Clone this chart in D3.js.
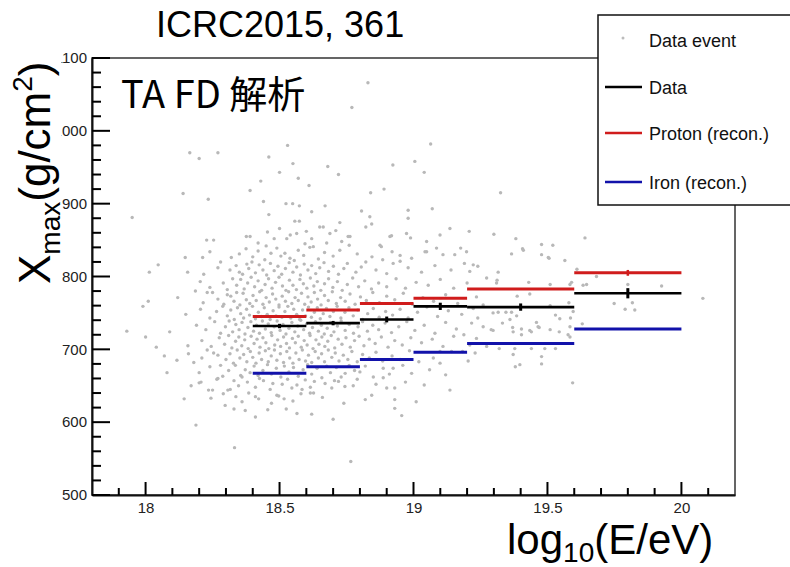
<!DOCTYPE html>
<html>
<head>
<meta charset="utf-8">
<script src="https://cdn.jsdelivr.net/npm/d3@7"></script>
<style>
  body { margin: 0; background: #fff; }
  svg { display: block; font-family: "Liberation Sans", Arial, sans-serif; }
</style>
</head>
<body>
<div class="curr-graff"></div>
<script>
// bins in log10(E/eV)
const binEdges = [18.4, 18.6, 18.8, 19.0, 19.2, 19.6, 20.0];
const binCenters = [18.5, 18.7, 18.9, 19.1, 19.4, 19.8];
const dataXmax = [732, 736, 741, 759, 758, 777];
const dataErr = [3, 3, 4, 5, 5, 7];
const protonXmax = [745, 754, 763, 770, 783, 805];
const protonErr = [1, 1, 1, 1, 1, 4];
const ironXmax = [667, 676, 686, 696, 708, 728];

const xMajorTicks = [18, 18.5, 19, 19.5, 20];
const xTickLabels = ["18", "18.5", "19", "19.5", "20"];
const yMajorTicks = [500, 600, 700, 800, 900, 1000, 1100];
const yTickLabels = ["500", "600", "700", "800", "900", "1000", "1100"];

const legendLabels = ["Data event", "Data", "Proton (recon.)", "Iron (recon.)"];

// individual events (approximate)
const events = [
[17.95,881],[17.99,759],[18.01,766],[18.014,806],[18.047,816],[17.93,725],[18.0,717],[18.04,703],[18.07,691],[18.08,668],
[18.09,724],[18.117,685],[18.12,771],[18.144,632],[18.15,748],[18.158,705],[18.16,694],[18.17,650],[18.18,682],[18.188,596],
[18.186,780],[18.148,826],[18.157,806],[18.14,914],[18.165,970],[18.20,962],[18.27,970],[18.46,964],[18.53,980],[18.55,955],
[18.68,951],[18.43,931],[18.77,1032],[18.83,1066],[19.064,982],[18.923,953],[19.005,958],[19.04,943],[18.57,935],[18.61,925],
[18.39,918],[18.72,940],[18.5,943],[18.84,915],[18.89,920],[19.325,915],[18.234,906],[18.332,565],[18.766,546],
[19.297,726],[19.312,795],[19.316,806],[19.316,751],[19.32,701],[19.332,736],[19.345,751],[19.36,741],[19.366,831],[19.366,751],
[19.37,730],[19.372,724],[19.372,693],[19.378,701],[19.38,676],[19.382,852],[19.385,746],[19.387,773],[19.397,679],[19.403,728],
[19.403,720],[19.407,838],[19.41,836],[19.43,792],[19.434,776],[19.434,726],[19.44,724],[19.44,701],[19.459,737],[19.465,731],
[19.469,730],[19.478,844],[19.478,830],[19.478,690],[19.478,680],[19.49,701],[19.503,826],[19.506,825],[19.51,789],[19.51,760],
[19.51,727],[19.52,843],[19.53,747],[19.53,701],[19.544,724],[19.546,742],[19.565,822],[19.577,720],[19.58,764],[19.584,789],
[19.584,731],[19.584,717],[19.586,743],[19.59,792],[19.594,654],[19.596,752],[19.61,810],[19.63,735],[19.633,788],[19.64,853],
[19.646,789],[19.683,800],[19.749,763],[19.79,755],[19.80,789],[19.817,764],[19.826,754],[19.926,787],[20.08,770],
[19.21,706],[19.23,695],[19.204,684],[19.188,720],[19.235,715],[19.273,704],[19.235,772],[19.26,761],[19.223,756],[19.24,743],
[19.26,731],[19.29,727],[19.297,750],[19.217,736],[19.273,798],[19.31,791],[19.223,816],[19.24,814],[19.21,807],[19.30,858],
[19.208,862],[19.19,818],
[19.099,857],[19.136,866],[19.049,848],[19.049,834],[19.086,839],[19.11,830],[19.154,830],[19.176,839],[19.198,834],[19.043,834],
[19.07,893],[19.074,688],[19.099,681],[19.142,697],[19.183,697],[19.099,697],[19.136,644],
[18.806,890],[18.837,882],[18.844,872],[18.822,868],[18.98,891],[18.98,880],[18.763,855],[18.918,856],[18.974,859],[18.989,853],
[18.88,841],[18.875,843],[18.912,855],[18.993,825],[18.95,821],[18.924,818],[18.885,823],[18.822,820],[18.753,818],
[18.93,647],[18.93,631],[18.93,619],[18.956,609],[18.9,647],[18.844,637],[18.887,661],[18.924,674],[18.993,667],[18.775,650],
[18.744,649],[18.8,669],[18.85,662],[18.887,674],
[18.524,900],[18.549,900],[18.574,897],[18.557,876],[18.574,876],[18.65,868],[18.663,868],[18.725,874],[18.54,857],[18.564,859],
[18.527,852],[18.62,852],[18.688,859],[18.756,855],[18.732,848],[18.676,846],[18.626,841],[18.613,840],[18.57,836],[18.52,832],
[18.539,825],[18.76,843],
[18.228,850],[18.254,850],[18.24,834],[18.213,826],[18.204,793],[18.217,803],[18.23,778],[18.25,778],[18.27,812],[18.28,820],
[18.32,826],[18.29,791],[18.305,775],[18.34,778],[18.35,806],[18.325,797],[18.376,855],[18.39,855],[18.378,817],[18.397,820],
[18.20,668],[18.207,655],[18.20,654],[18.21,688],[18.235,644],[18.25,644],[18.244,633],[18.254,695],[18.266,659],[18.27,660],
[18.288,663],[18.297,623],[18.307,644],[18.316,645],[18.33,618],[18.337,635],[18.347,650],[18.372,616],[18.385,640],[18.41,635],
[18.422,632],[18.456,617],[18.49,637],[18.497,636],[18.517,632],[18.525,618],[18.546,647],[18.565,612],[18.584,645],[18.596,658],
[18.615,640],[18.627,640],[18.67,653],[18.72,656],[18.745,667],
// 600-660
[18.41,607],[18.62,611],[18.70,604],[18.36,628],[18.47,626],[18.55,629],[18.66,634],[18.74,626],[18.82,631],[18.58,639],
[18.29,639],[19.01,628],[18.38,655],[18.41,648],[18.44,657],[18.465,645],[18.51,652],[18.53,659],[18.565,651],[18.63,656],
[18.695,647],[18.79,659],[18.86,652],[18.97,655],[19.04,651],[18.33,657],[18.425,660],[18.475,653],[18.615,648],[18.705,657],
// 660-680
[18.31,671],[18.335,678],[18.355,664],[18.372,672],[18.39,668],[18.405,677],[18.42,664],[18.438,671],[18.455,679],[18.47,666],
[18.488,674],[18.505,662],[18.518,677],[18.535,669],[18.552,675],[18.57,663],[18.588,672],[18.605,679],[18.62,666],[18.64,674],
[18.658,661],[18.676,677],[18.69,668],[18.712,675],[18.73,662],[18.76,678],[18.78,671],[18.82,677],[18.91,666],[18.96,678],
[19.06,672],[19.12,665],[18.24,676],[18.28,678],[18.36,662],
// 680-700
[18.30,686],[18.315,694],[18.328,681],[18.342,699],[18.352,688],[18.366,693],[18.378,683],[18.391,697],[18.40,689],[18.412,681],
[18.424,695],[18.433,686],[18.447,698],[18.458,683],[18.469,691],[18.481,699],[18.49,685],[18.503,694],[18.515,682],[18.527,697],
[18.538,688],[18.55,681],[18.561,695],[18.573,686],[18.585,699],[18.597,684],[18.608,692],[18.62,682],[18.633,697],[18.645,688],
[18.657,694],[18.668,683],[18.682,699],[18.695,689],[18.708,695],[18.722,684],[18.738,692],[18.755,686],[18.77,697],[18.79,683],
[18.81,693],[18.835,688],[18.86,696],[18.885,684],[18.92,691],[18.95,686],[18.985,698],[19.02,683],[18.27,692],[18.23,699],
// 700-720
[18.21,712],[18.245,704],[18.275,716],[18.295,707],[18.31,719],[18.322,702],[18.336,711],[18.348,717],[18.359,705],[18.37,713],
[18.383,701],[18.394,718],[18.405,708],[18.416,714],[18.427,703],[18.438,716],[18.449,709],[18.46,701],[18.471,719],[18.482,706],
[18.493,713],[18.504,704],[18.515,717],[18.526,708],[18.537,702],[18.548,715],[18.559,709],[18.57,718],[18.581,703],[18.592,712],
[18.603,706],[18.614,719],[18.625,701],[18.636,713],[18.647,707],[18.658,717],[18.669,704],[18.68,711],[18.693,719],[18.706,702],
[18.719,714],[18.733,707],[18.748,716],[18.764,703],[18.78,712],[18.797,718],[18.815,705],[18.835,714],[18.857,708],[18.88,717],
[18.905,703],[18.93,712],[18.958,706],[18.99,716],[19.03,709],[19.07,714],[19.11,704],[19.15,718],
// 720-740
[18.19,733],[18.225,727],[18.258,738],[18.28,722],[18.298,731],[18.312,739],[18.325,724],[18.337,734],[18.349,727],[18.36,737],
[18.371,721],[18.382,730],[18.393,738],[18.403,725],[18.414,733],[18.425,722],[18.436,739],[18.447,728],[18.458,735],[18.469,723],
[18.48,731],[18.491,739],[18.502,726],[18.513,734],[18.524,721],[18.535,729],[18.546,737],[18.557,724],[18.568,732],[18.579,740],
[18.59,727],[18.601,735],[18.612,722],[18.623,730],[18.634,738],[18.645,725],[18.656,733],[18.667,721],[18.678,729],[18.69,737],
[18.703,724],[18.716,732],[18.73,739],[18.745,726],[18.76,734],[18.776,722],[18.793,731],[18.81,738],[18.828,725],[18.848,733],
[18.87,727],[18.894,736],[18.918,723],[18.945,731],[18.975,738],[19.005,726],[19.04,733],[19.08,722],[19.12,737],[19.16,728],
// 740-760
[18.205,755],[18.24,743],[18.265,752],[18.288,759],[18.305,746],[18.318,754],[18.331,741],[18.343,757],[18.355,749],[18.366,743],
[18.377,755],[18.388,747],[18.399,759],[18.41,742],[18.421,751],[18.432,745],[18.443,757],[18.454,748],[18.465,741],[18.476,753],
[18.487,746],[18.498,758],[18.509,744],[18.52,752],[18.531,759],[18.542,743],[18.553,755],[18.564,748],[18.575,741],[18.586,754],
[18.597,746],[18.608,758],[18.619,744],[18.63,751],[18.641,757],[18.652,742],[18.663,749],[18.675,756],[18.688,745],[18.701,752],
[18.715,759],[18.729,743],[18.744,751],[18.759,757],[18.775,746],[18.792,754],[18.81,741],[18.829,749],[18.85,756],[18.872,744],
[18.896,752],[18.922,747],[18.95,755],[18.98,743],[19.015,751],[19.05,758],[19.09,745],[19.13,753],[19.18,748],
// 760-780
[18.215,764],[18.27,769],[18.292,762],[18.318,773],[18.33,766],[18.352,761],[18.364,777],[18.376,768],[18.389,763],[18.401,774],
[18.413,767],[18.426,779],[18.438,762],[18.45,771],[18.462,765],[18.474,776],[18.486,769],[18.498,761],[18.51,773],[18.522,766],
[18.534,779],[18.546,763],[18.558,771],[18.57,767],[18.582,777],[18.594,762],[18.606,772],[18.618,765],[18.63,778],[18.642,769],
[18.655,761],[18.668,774],[18.682,767],[18.697,779],[18.712,763],[18.728,771],[18.745,766],[18.763,776],[18.782,762],[18.802,772],
[18.824,767],[18.848,778],[18.873,764],[18.9,773],[18.93,768],[18.962,777],[18.996,762],[19.035,771],[19.075,766],[19.12,775],
[19.165,763],
// 780-800
[18.24,785],[18.305,782],[18.34,788],[18.355,796],[18.368,783],[18.381,791],[18.394,799],[18.407,786],[18.42,794],[18.433,781],
[18.446,789],[18.459,797],[18.472,784],[18.485,792],[18.498,799],[18.511,787],[18.524,781],[18.537,795],[18.55,788],[18.563,782],
[18.576,796],[18.589,790],[18.602,784],[18.615,798],[18.628,787],[18.641,793],[18.654,781],[18.668,790],[18.683,797],[18.699,785],
[18.716,793],[18.734,781],[18.753,789],[18.773,798],[18.795,786],[18.818,794],[18.843,783],[18.87,791],[18.9,786],[18.935,797],
[18.97,784],[19.01,792],[19.055,788],[19.1,796],[19.15,784],[19.2,791],
// 800-840
[18.315,809],[18.338,815],[18.362,803],[18.385,811],[18.41,805],[18.424,816],[18.438,809],[18.452,802],[18.466,818],[18.48,808],
[18.494,814],[18.508,803],[18.522,811],[18.536,819],[18.55,806],[18.564,813],[18.578,802],[18.592,817],[18.606,809],[18.62,815],
[18.635,804],[18.65,812],[18.666,819],[18.683,807],[18.701,814],[18.72,803],[18.74,811],[18.785,806],[18.805,813],[18.86,809],
[18.9,804],[18.98,812],[19.03,806],[19.08,815],[19.14,809],
[18.35,831],[18.375,838],[18.4,827],[18.42,835],[18.445,823],[18.468,832],[18.49,839],[18.505,828],[18.555,822],[18.59,829],
[18.645,824],[18.668,833],[18.7,828],[18.725,836],[18.79,831],[18.845,827],[18.92,834],[18.95,829],
// 840-910
[18.42,846],[18.455,861],[18.48,852],[18.5,866],[18.595,845],[18.71,863],[18.45,842],[18.6,862],[18.46,885],[18.62,889],
[18.44,903],[18.67,897]
];

var svg = d3.select(".curr-graff")
    .append("svg")
    .attr("width", 790)
    .attr("height", 567);

var xScale = d3.scaleLinear()
    .domain([17.8, 20.2])
    .range([92, 735]);

var yScale = d3.scaleLinear()
    .domain([500, 1100])
    .range([495, 58]);

// events
svg.append("g")
    .selectAll("circle")
    .data(events)
    .enter()
    .append("circle")
    .attr("cx", d => xScale(d[0]))
    .attr("cy", d => yScale(d[1]))
    .attr("r", 1.7)
    .attr("fill", "#b8b8b8");

// frame
svg.append("rect")
    .attr("x", xScale(17.8))
    .attr("y", yScale(1100))
    .attr("width", xScale(20.2) - xScale(17.8))
    .attr("height", yScale(500) - yScale(1100))
    .attr("fill", "none")
    .attr("stroke", "#333")
    .attr("stroke-width", 1.5);

// step lines
function drawSteps(vals, color, width) {
    svg.append("g")
        .selectAll("line")
        .data(vals)
        .enter()
        .append("line")
        .attr("x1", (d, i) => xScale(binEdges[i]))
        .attr("x2", (d, i) => xScale(binEdges[i + 1]))
        .attr("y1", d => yScale(d))
        .attr("y2", d => yScale(d))
        .attr("stroke", color)
        .attr("stroke-width", width);
}
function drawErrors(vals, errs, color, width) {
    svg.append("g")
        .selectAll("line")
        .data(vals)
        .enter()
        .append("line")
        .attr("x1", (d, i) => xScale(binCenters[i]))
        .attr("x2", (d, i) => xScale(binCenters[i]))
        .attr("y1", (d, i) => yScale(d - errs[i]))
        .attr("y2", (d, i) => yScale(d + errs[i]))
        .attr("stroke", color)
        .attr("stroke-width", width);
}

drawSteps(protonXmax, "#d01c1c", 3);
drawErrors(protonXmax, protonErr, "#d01c1c", 2.5);
drawSteps(ironXmax, "#1212aa", 3);
drawSteps(dataXmax, "#000", 2.6);
drawErrors(dataXmax, dataErr, "#000", 3);

// axes: labels from d3 axis, inward ticks drawn separately
var xMinor = d3.range(179, 202).map(d => d / 10).filter(d => xMajorTicks.indexOf(d) < 0);
var yMinor = d3.range(500, 1101, 20).filter(d => d % 100 !== 0);

var xAxis = d3.axisBottom(xScale)
    .tickValues(xMajorTicks)
    .tickFormat((d, i) => xTickLabels[i])
    .tickSize(0).tickPadding(7);

var yAxis = d3.axisLeft(yScale)
    .tickValues(yMajorTicks)
    .tickFormat((d, i) => yTickLabels[i])
    .tickSize(0).tickPadding(5);

svg.append("g")
    .attr("transform", "translate(0,495)")
    .attr("class", "x-axis")
    .call(xAxis);
svg.append("g")
    .attr("transform", "translate(92,0)")
    .attr("class", "y-axis")
    .call(yAxis);

svg.selectAll(".x-axis path.domain, .y-axis path.domain")
    .attr("stroke", "#111")
    .attr("stroke-width", 2);
svg.selectAll(".x-axis text, .y-axis text")
    .attr("font-size", "15px")
    .attr("fill", "#222")
    .attr("font-family", "Liberation Sans, Arial, sans-serif");

var ticks = svg.append("g").attr("stroke", "#000").attr("stroke-width", 2);
ticks.selectAll("line.xt")
    .data(xMajorTicks.map(d => [d, 13]).concat(xMinor.map(d => [d, 7])))
    .enter()
    .append("line")
    .attr("class", "xt")
    .attr("x1", d => xScale(d[0]))
    .attr("x2", d => xScale(d[0]))
    .attr("y1", yScale(500))
    .attr("y2", d => yScale(500) - d[1]);
ticks.selectAll("line.yt")
    .data(yMajorTicks.map(d => [d, 18]).concat(yMinor.map(d => [d, 9])))
    .enter()
    .append("line")
    .attr("class", "yt")
    .attr("x1", xScale(17.8))
    .attr("x2", d => xScale(17.8) + d[1])
    .attr("y1", d => yScale(d[0]))
    .attr("y2", d => yScale(d[0]));

// legend
var leg = svg.append("g");
leg.append("rect")
    .attr("x", 598).attr("y", 15)
    .attr("width", 210).attr("height", 190)
    .attr("fill", "#fff")
    .attr("stroke", "#111")
    .attr("stroke-width", 1.5);

var legY = [40, 87, 133, 182];
var legColors = [null, "#000", "#d01c1c", "#1212aa"];
leg.append("circle")
    .attr("cx", 623).attr("cy", legY[0] - 2)
    .attr("r", 1.5).attr("fill", "#bcbcbc");
legendLabels.forEach((lab, i) => {
    if (legColors[i]) {
        leg.append("line")
            .attr("x1", 605).attr("x2", 642)
            .attr("y1", legY[i]).attr("y2", legY[i])
            .attr("stroke", legColors[i])
            .attr("stroke-width", 2.5);
    }
    leg.append("text")
        .attr("x", 649)
        .attr("y", legY[i] + 6.5)
        .attr("font-size", "18px")
        .attr("fill", "#111")
        .text(lab);
});

// y title (white backing hides the leading digit like the slide)
svg.append("rect")
    .attr("x", 0).attr("y", 45)
    .attr("width", 61.5).attr("height", 100)
    .attr("fill", "#fff");

var yTitle = svg.append("text")
    .attr("transform", "translate(50,284) rotate(-90)")
    .attr("font-size", "44px")
    .attr("fill", "#000");
yTitle.append("tspan").text("X");
yTitle.append("tspan").attr("font-size", "28px").attr("dy", 10).text("max");
yTitle.append("tspan").attr("dy", -10).text("(g/cm");
yTitle.append("tspan").attr("font-size", "28px").attr("dy", -18).text("2");
yTitle.append("tspan").attr("dy", 18).text(")");

// x title
var xTitle = svg.append("text")
    .attr("x", 507).attr("y", 554)
    .attr("font-size", "42px")
    .attr("fill", "#000");
xTitle.append("tspan").text("log");
xTitle.append("tspan").attr("font-size", "28px").attr("dy", 8).text("10");
xTitle.append("tspan").attr("dy", -8).text("(E/eV)");

// titles
svg.append("text")
    .attr("x", 156).attr("y", 37)
    .attr("font-size", "36px")
    .attr("fill", "#000")
    .text("ICRC2015, 361");

svg.append("text")
    .attr("x", 121).attr("y", 108)
    .attr("font-size", "38px")
    .attr("font-family", "Noto Sans CJK JP, Noto Sans, sans-serif")
    .attr("fill", "#000")
    .text("TA FD 解析");
</script>
</body>
</html>
